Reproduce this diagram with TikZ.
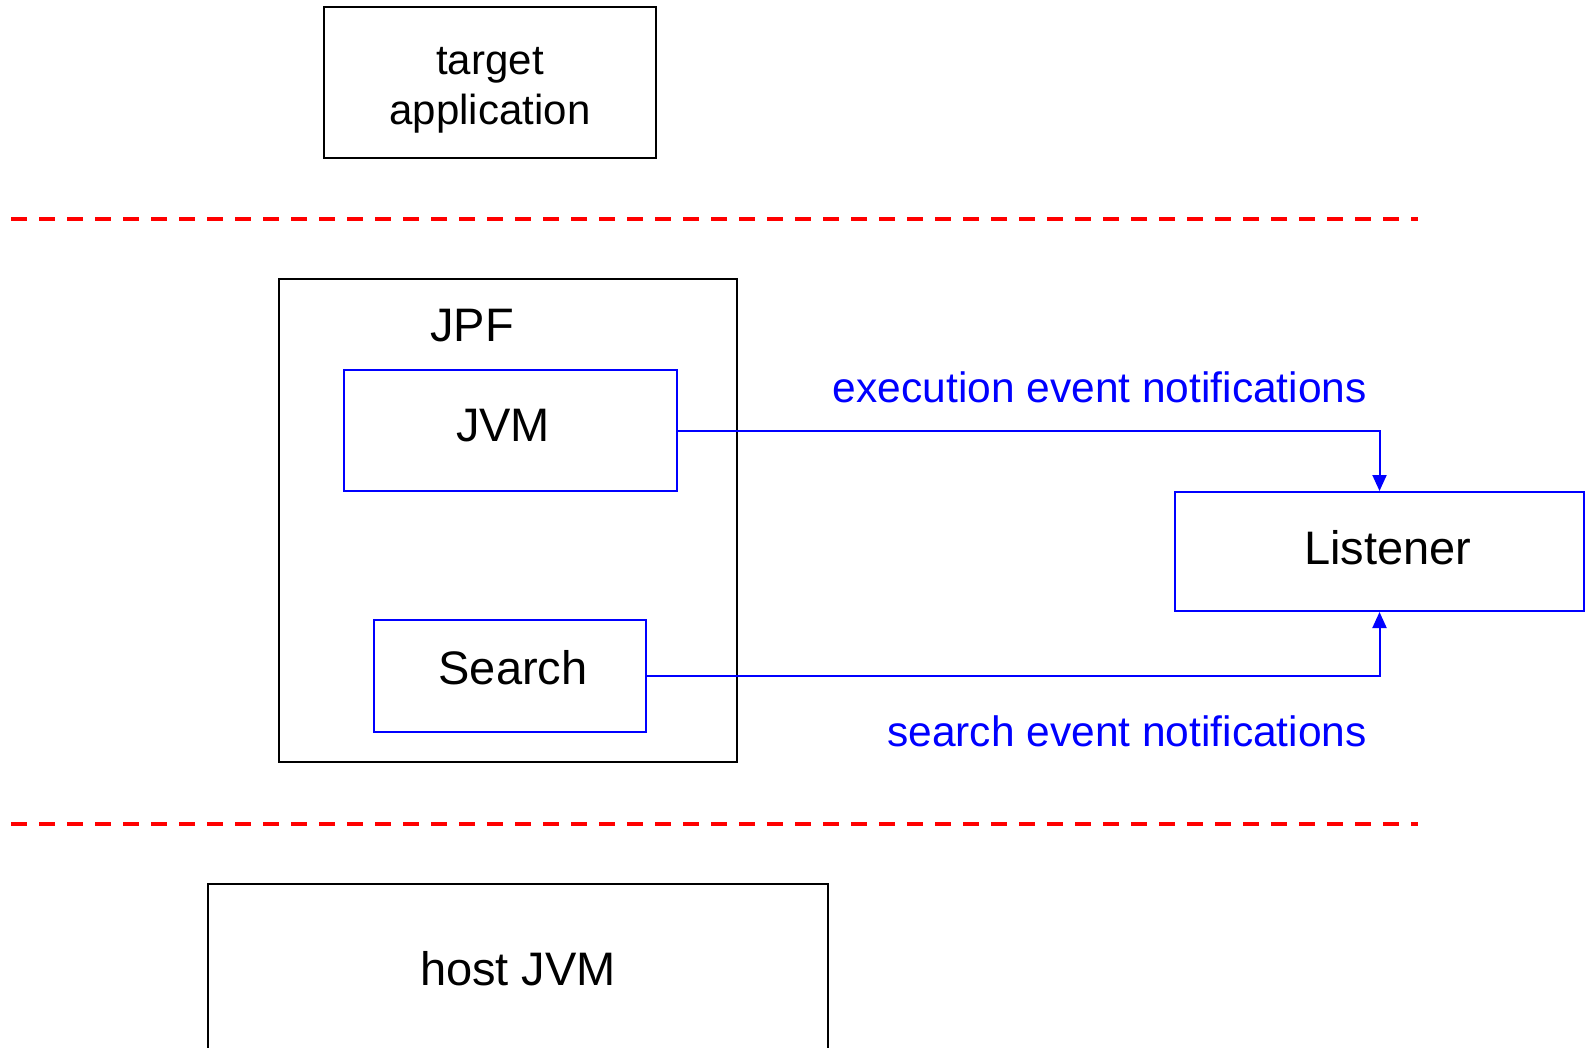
\documentclass[tikz,border=0pt]{standalone}
\usepackage{fontspec}
\setmainfont{Liberation Sans}
\usetikzlibrary{arrows.meta}
\tikzset{
  box/.style={draw,line width=2pt,inner sep=0pt,font=\fontsize{47}{56}\selectfont},
  bluebox/.style={box,draw=blue},
  sep/.style={draw=red,line width=4pt,dash pattern=on 16pt off 12pt},
  note/.style={text=blue,inner sep=0pt,font=\fontsize{42.5}{50}\selectfont},
  notify/.style={draw=blue,line width=2pt,-{Triangle[length=16pt,width=14pt]}}
}
\begin{document}
\begin{tikzpicture}[x=1pt,y=-1pt]
\useasboundingbox (0,0) rectangle (1586,1048);
\node (app) at (490,82.5)[box,minimum width=332,minimum height=151,font=\fontsize{42}{50}\selectfont]{\raisebox{-7pt}[\height][\depth]{\begin{tabular}{@{}c@{}}target\\application\end{tabular}}};
\draw[sep] (11,219.5)--(1418,219.5);
\node (jpf) at (508,520.5)[box,minimum width=458,minimum height=483]{};
\node (jpflabel) at (472,326)[inner sep=0pt,font=\fontsize{47}{56}\selectfont]{JPF};
\node (jvm) at (510.5,430.5)[bluebox,minimum width=333,minimum height=121]{\hspace*{-15pt}\raisebox{11pt}{JVM}};
\node (search) at (510,676)[bluebox,minimum width=272,minimum height=112]{\hspace*{6pt}\raisebox{17pt}{Search}};
\node (listener) at (1379.5,551.5)[bluebox,minimum width=409,minimum height=119]{\hspace*{17pt}\raisebox{8pt}{Listener}};
\draw[notify] (jvm.east)-|(listener.north);
\draw[notify] (search.east)-|(listener.south);
\node (execnote) at (1367,402)[note,anchor=base east]{execution event notifications};
\node (searchnote) at (1367,746)[note,anchor=base east]{search event notifications};
\draw[sep] (11,824)--(1418,824);
\node (host) at (518,969)[box,minimum width=620,minimum height=170]{host JVM};
\end{tikzpicture}
\end{document}
